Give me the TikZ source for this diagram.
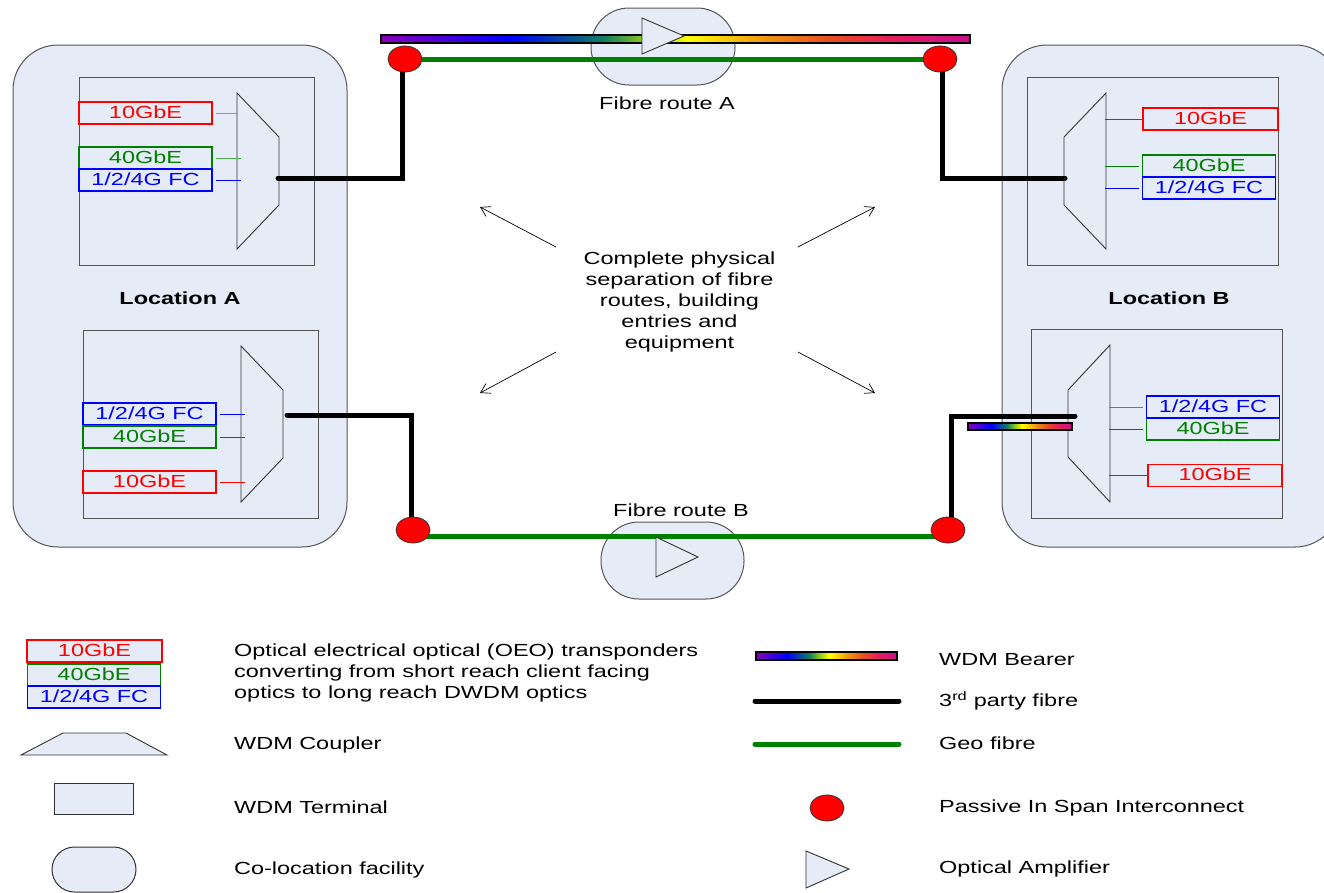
\documentclass[tikz,border=0pt]{standalone}
\usepackage{fontspec}
\setmainfont[FakeStretch=1.34]{Liberation Sans}
\definecolor{facility}{HTML}{E6ECF7}
\definecolor{outline}{HTML}{555555}
\definecolor{geo}{HTML}{008000}
\definecolor{rbpurple}{HTML}{8A00B8}
\definecolor{rbgreen}{HTML}{108060}
\definecolor{rblime}{HTML}{80C020}
\definecolor{rborange}{HTML}{F09010}
\definecolor{rbred}{HTML}{E8501E}
\definecolor{rbrose}{HTML}{E8205A}
\definecolor{rbmagenta}{HTML}{C8108C}
\pgfdeclarehorizontalshading{rainbow}{100bp}{color(0bp)=(rbpurple); color(25bp)=(rbpurple);
	color(36bp)=(blue); color(44bp)=(rbgreen); color(47bp)=(rblime); color(51bp)=(yellow);
	color(58bp)=(rborange); color(63bp)=(rbred); color(68bp)=(rbrose); color(75bp)=(rbmagenta); color(100bp)=(rbmagenta)}
\pgfdeclarelayer{back}
\pgfdeclarelayer{fibres}
\pgfsetlayers{back,fibres,main}
\tikzset{
	txt/.style={font=\fontsize{17.5}{21}\selectfont, inner sep=0pt},
	legtxt/.style={txt, anchor=west, align=left},
	colo/.style={draw=outline, fill=facility, line width=1pt, inner sep=0pt},
	terminal/.style={draw=outline, fill=facility, line width=1pt, inner sep=0pt},
	coupler/.style={draw=black!80, line width=0.9pt},
	amp/.style={draw=black!80, fill=facility, line width=0.9pt},
	pis/.style={draw=black!80, fill=red, ellipse, line width=0.8pt, minimum width=34pt, minimum height=26pt, inner sep=0pt},
	lbl/.style={txt, rectangle, draw, line width=1.3pt, minimum width=133pt, minimum height=22pt, text height=12.5pt, text depth=2pt},
	lblred/.style={lbl, draw=red, text=red},
	lblgreen/.style={lbl, draw=geo, text=geo},
	lblblue/.style={lbl, draw=blue, text=blue},
	bearer/.style={draw=black, line width=1.3pt, shade, shading=rainbow, minimum height=8pt, inner sep=0pt},
	thirdparty/.style={draw=black, line width=5pt, line cap=round},
	geofibre/.style={draw=geo, line width=5pt, line cap=round},
}
\usetikzlibrary{shapes.geometric,arrows.meta}
\begin{document}
\begin{tikzpicture}[x=1pt, y=-1pt, >={Straight Barb[length=9pt,width=11pt]}]
	\clip (0,0) rectangle (1324,892);
	\begin{pgfonlayer}{back}
		% co-location facilities and terminals
		\node[colo, rounded corners=45pt, minimum width=334pt, minimum height=502pt] (locA) at (180,296) {};
		\node[colo, rounded corners=45pt, minimum width=338pt, minimum height=502pt] (locB) at (1171,296) {};
		\node[colo, rounded corners=38pt, minimum width=144pt, minimum height=77pt] (spanA) at (663,46.5) {};
		\node[colo, rounded corners=38pt, minimum width=143pt, minimum height=77pt] (spanB) at (672.5,560.5) {};
		\node[terminal, minimum width=235pt, minimum height=188pt] (termA1) at (196.5,171) {};
		\node[terminal, minimum width=235pt, minimum height=188pt] (termA2) at (200.5,424) {};
		\node[terminal, minimum width=251pt, minimum height=188pt] (termB1) at (1152.5,171) {};
		\node[terminal, minimum width=251pt, minimum height=189pt] (termB2) at (1156.5,423.5) {};
		% couplers
		\draw[coupler] (237,93) -- (279,137) -- (279,205) -- (237,249) -- cycle;
		\draw[coupler] (241,346) -- (283,390) -- (283,458) -- (241,502) -- cycle;
		\draw[coupler] (1106,93) -- (1064,137) -- (1064,205) -- (1106,249) -- cycle;
		\draw[coupler] (1110,345) -- (1068,390) -- (1068,457) -- (1110,502) -- cycle;
	\end{pgfonlayer}
	\coordinate (cplA1) at (278,178);
	\coordinate (cplA2) at (287,415);
	\coordinate (cplB1) at (1065,178);
	\coordinate (cplB2) at (1075,416);

	\node[pis] (pisA1) at (405,59) {};
	\node[pis] (pisA2) at (940,59) {};
	\node[pis] (pisB1) at (413,530) {};
	\node[pis] (pisB2) at (948,530) {};

	\begin{pgfonlayer}{fibres}
		\node[bearer, minimum width=589pt] (bearerA) at (675.5,39) {};
		\node[bearer, minimum width=104pt, minimum height=7pt] (bearerB) at (1020,426.5) {};
		\draw[geofibre] (pisA1.center) -- (pisA2.center);
		\draw[geofibre] ([yshift=-6pt]pisB1.center) -- ([yshift=-6pt]pisB2.center);
		\draw[thirdparty] (cplA1) -| ([xshift=-3pt]pisA1.center);
		\draw[thirdparty] (cplB1) -| ([xshift=2pt]pisA2.center);
		\draw[thirdparty] (cplA2) -| ([xshift=-2pt]pisB1.center);
		\draw[thirdparty] (cplB2) -| ([xshift=3pt]pisB2.center);
	\end{pgfonlayer}

	% amplifiers
	\draw[amp] (642,18) -- (684,36) -- (642,54) -- cycle;
	\draw[amp] (656,537) -- (698,557) -- (656,577) -- cycle;

	% clients
	\node[lblred] (tenA1) at (145.5,113) {10GbE};
	\node[lblgreen] (fortyA1) at (145.5,158) {40GbE};
	\node[lblblue] (fcA1) at (145.5,180) {1/2/4G FC};
	\node[lblblue] (fcA2) at (149.5,414) {1/2/4G FC};
	\node[lblgreen] (fortyA2) at (149.5,437) {40GbE};
	\node[lblred] (tenA2) at (149.5,482) {10GbE};
	\node[lblred, minimum width=135pt] (tenB1) at (1210.5,119) {10GbE};
	\node[lblgreen] (fortyB1) at (1209,166) {40GbE};
	\node[lblblue] (fcB1) at (1209,188) {1/2/4G FC};
	\node[lblgreen] (fortyB2) at (1213,429) {40GbE};
	\node[lblblue] (fcB2) at (1213,407) {1/2/4G FC};
	\node[lblred, minimum width=134pt] (tenB2) at (1215,475.5) {10GbE};

	\draw[red!60, line width=0.9pt] ([xshift=3pt]tenA1.east) -- ++(22,0);
	\draw[geo!70, line width=0.9pt] ([xshift=3pt]fortyA1.east) -- ++(25,0);
	\draw[blue, line width=0.6pt] ([xshift=3pt]fcA1.east) -- ++(25,0);
	\draw[blue, line width=0.6pt] ([xshift=3pt]fcA2.east) -- ++(25,0);
	\draw[geo, line width=0.6pt] ([xshift=3pt]fortyA2.east) -- ++(25,0);
	\draw[red, line width=0.6pt] ([xshift=3pt]tenA2.east) -- ++(25,0);
	\draw[red, line width=0.6pt] (tenB1.west) -- ++(-37,0);
	\draw[geo, line width=0.6pt] ([xshift=-3pt]fortyB1.west) -- ++(-34,0);
	\draw[blue, line width=0.6pt] ([xshift=-3pt]fcB1.west) -- ++(-34,0);
	\draw[blue!60, line width=1pt] ([xshift=-3pt]fcB2.west) -- ++(-34,0);
	\draw[geo, line width=0.6pt] ([xshift=-3pt]fortyB2.west) -- ++(-34,0);
	\draw[red, line width=0.6pt] (tenB2.west) -- ++(-38,0);

	% captions
	\node[txt] (routeA) at (667,103) {Fibre route A};
	\node[txt] (routeB) at (681,510) {Fibre route B};
	\node[txt, font=\fontsize{17.5}{21}\selectfont\bfseries] (nameA) at (180,298) {Location A};
	\node[txt, font=\fontsize{17.5}{21}\selectfont\bfseries] (nameB) at (1169,298) {Location B};
	\node[txt, align=center] (separation) at (679.5,302) {Complete physical\\separation of fibre\\routes, building\\entries and\\equipment};
	\foreach \i/\sx/\sy/\ex/\ey in {1/556/247/480/207, 2/798/247/875/207, 3/556/352/480/393, 4/798/352/875/393} {
			\coordinate (from\i) at (\sx,\sy);
			\coordinate (to\i) at (\ex,\ey);
			\draw[->, line width=0.7pt] (from\i) -- (to\i);
		}

	% legend
	\node[lblred, fill=facility, minimum width=135pt] (legten) at (94.5,651) {10GbE};
	\node[lblgreen, fill=facility] (legforty) at (94,675) {40GbE};
	\node[lblblue, fill=facility] (legfc) at (94,697) {1/2/4G FC};
	\draw[amp] (21,755) -- (63,733) -- (126,733) -- (167,755) -- cycle;
	\node[terminal, draw=black!80, minimum width=79pt, minimum height=31pt] (legterm) at (94,798.5) {};
	\node[colo, draw=black!80, rounded corners=22.5pt, minimum width=84pt, minimum height=45pt] (legcolo) at (94,869.5) {};
	\node[bearer, minimum width=141pt] (legbearer) at (826.5,656) {};
	\coordinate (thirdL) at (755,701);
	\coordinate (thirdR) at (899,701);
	\coordinate (geoL) at (755,744);
	\coordinate (geoR) at (899,744);
	\draw[thirdparty] (thirdL) -- (thirdR);
	\draw[geofibre] (geoL) -- (geoR);
	\node[pis] (legpis) at (827,808) {};
	\draw[amp] (806,851) -- (849,869) -- (806,888) -- cycle;

	\node[legtxt] (legtxtOEO) at (234,673) {Optical electrical optical (OEO) transponders\\converting from short reach client facing\\optics to long reach DWDM optics};
	\node[legtxt] (legtxtCpl) at (234,745) {WDM Coupler};
	\node[legtxt] (legtxtTerm) at (234,807) {WDM Terminal};
	\node[legtxt] (legtxtColo) at (234,870) {Co-location facility};
	\node[legtxt] (legtxtBearer) at (939,660) {WDM Bearer};
	\node[legtxt] (legtxtThird) at (939,701) {3\textsuperscript{rd} party fibre};
	\node[legtxt] (legtxtGeo) at (939,743) {Geo fibre};
	\node[legtxt] (legtxtPis) at (939,808) {Passive In Span Interconnect};
	\node[legtxt] (legtxtAmp) at (939,869) {Optical Amplifier};
\end{tikzpicture}
\end{document}
